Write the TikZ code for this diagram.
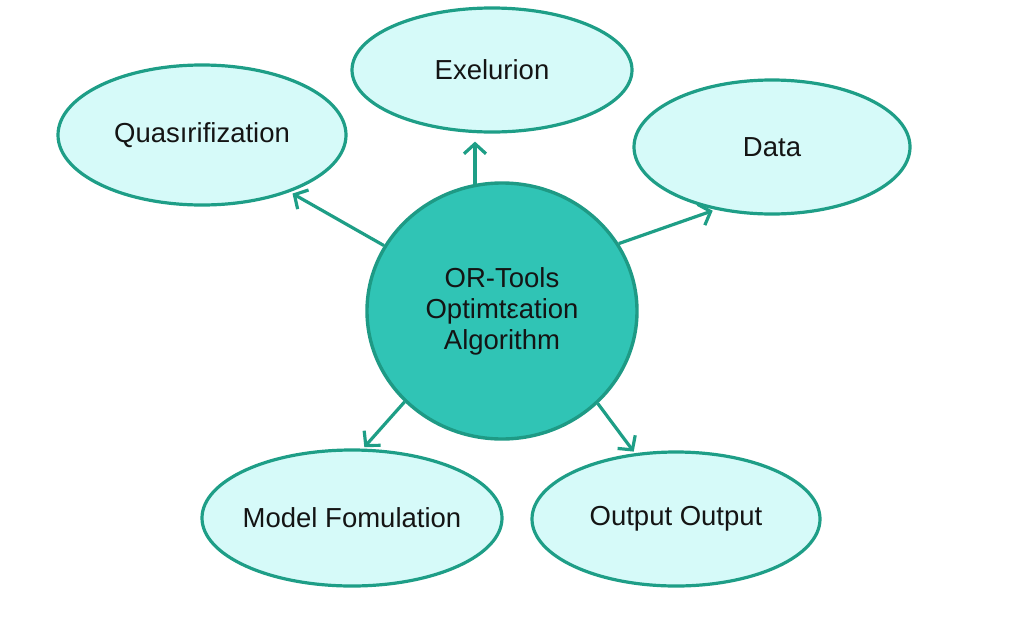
\documentclass[tikz,border=0pt]{standalone}
\usepackage{fontspec}
\setmainfont{Liberation Sans}
\usetikzlibrary{shapes.geometric,arrows.meta}
\definecolor{cfill}{HTML}{30C4B5}
\definecolor{cedge}{HTML}{1E9A85}
\definecolor{efill}{HTML}{D6FAF9}
\definecolor{eedge}{HTML}{1E9E87}
\definecolor{arrc}{HTML}{1E9E86}
\newcommand{\zb}[1]{\makebox[0pt]{#1}}
\tikzset{
  bub/.style={ellipse, draw=eedge, fill=efill, line width=3.2pt, inner sep=0pt,
    font=\fontsize{27.5}{31}\selectfont, text=black!92},
  hub/.style={ellipse, draw=cedge, fill=cfill, line width=3.4pt, inner sep=0pt,
    minimum width=270pt, minimum height=256pt, align=center,
    font=\fontsize{27.5}{31}\selectfont, text=black!92},
  arr/.style={draw=arrc, line width=3.2pt, -{Straight Barb[length=10pt,width=22pt]}},
}
\begin{document}
\begin{tikzpicture}[x=1pt,y=-1pt]
\useasboundingbox (0,0) rectangle (1024,632);
\node[bub, minimum width=288pt, minimum height=140pt] (q) at (202,135) {\zb{Quas\i rifization}};
\node[bub, minimum width=280pt, minimum height=124pt] (e) at (492,70) {\zb{Exelurion}};
\node[bub, minimum width=276pt, minimum height=134pt] (d) at (772,147) {\zb{Data}};
\node[bub, minimum width=300pt, minimum height=136pt] (m) at (352,518) {\zb{Model Fomulation}};
\node[bub, minimum width=288pt, minimum height=134pt] (o) at (676,519) {\zb{Output Output}};
\node[hub] (c) at (502,311) {OR-Tools\\Optimtεation\\Algorithm};
\draw[arr, shorten >=3pt] (c.151) -- (q.327.5);
\draw[arr, shorten >=8pt] (c.102) -- (c.102 |- e.south);
\draw[arr, shorten >=3pt] (c.30) -- (d.228);
\draw[arr, shorten >=2pt] (c.223.5) -- (m.81);
\draw[arr, shorten >=2pt] (c.316.5) -- (o.122);
\end{tikzpicture}
\end{document}
